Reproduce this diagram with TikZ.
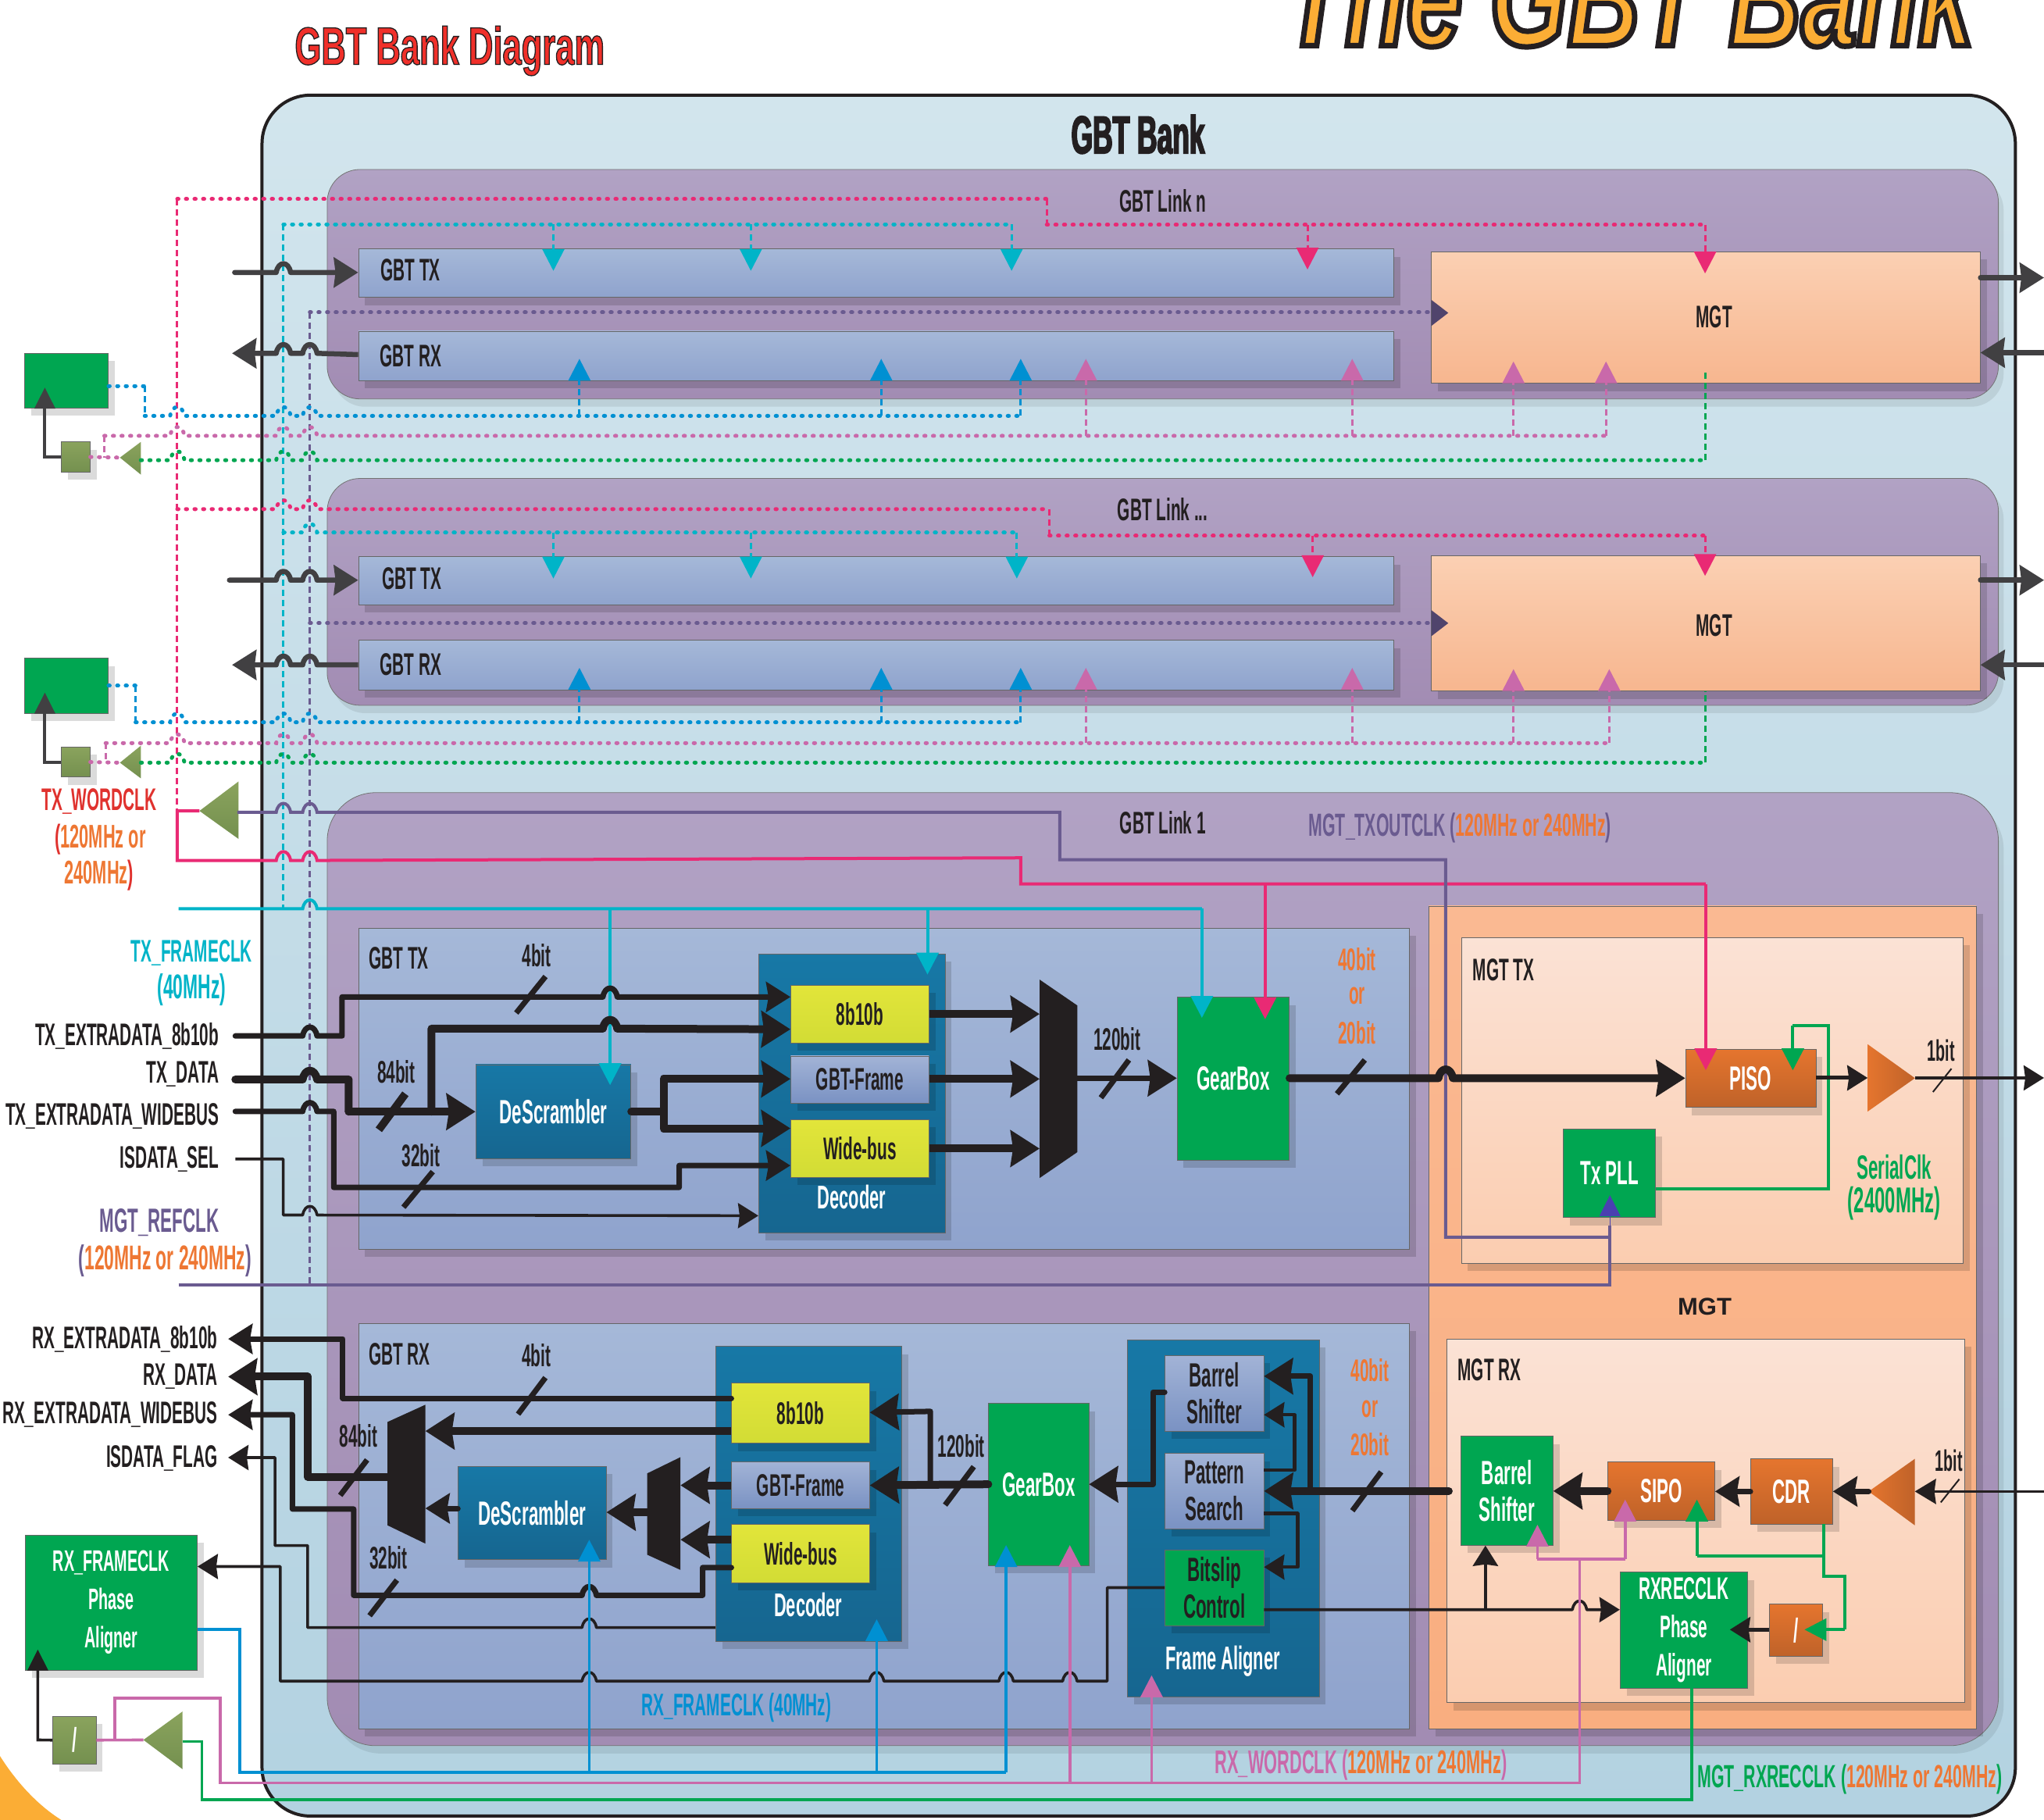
\documentclass[tikz,border=0pt]{standalone}
\usepackage{fontspec}
\usetikzlibrary{arrows.meta,calc}
\setmainfont{Liberation Sans}[FakeStretch=0.52]
\newfontfamily\widef{Liberation Sans}
\newfontfamily\titlef{Liberation Sans}[FakeStretch=0.72]
\newfontfamily\dgmf{Liberation Sans}[FakeStretch=0.64]
\definecolor{ink}{HTML}{231F20}
\definecolor{cDark}{HTML}{414042}
\definecolor{cCrim}{HTML}{E92A74}
\definecolor{cTeal}{HTML}{00B4C8}
\definecolor{cBlue}{HTML}{0090D2}
\definecolor{cPink}{HTML}{C969AA}
\definecolor{cGrn}{HTML}{00A651}
\definecolor{cPur}{HTML}{6A5B90}
\definecolor{cOrg}{HTML}{EE7733}
\definecolor{cRed}{HTML}{E0322E}
\definecolor{cBrt}{HTML}{F0302A}
\definecolor{cTitle}{HTML}{FBAD35}
\newcommand\fs[1]{\fontsize{#1}{48}\selectfont}
\newcommand\hb[2]{-- (#1-5.5,#2) .. controls (#1-4,#2-9) and (#1+4,#2-9) .. (#1+5.5,#2)}
\newcommand\hbl[2]{-- (#1+5.5,#2) .. controls (#1+4,#2-9) and (#1-4,#2-9) .. (#1-5.5,#2)}
\newcommand{\bx}[7][]{%
 \pgfmathsetmacro\bxw{(#5-#3)*1.669}\pgfmathsetmacro\bxh{(#6-#4)*1.669}%
 \fill[black,opacity=.14] (#3+5,#4+6) rectangle (#5+5,#6+6);%
 \node[boxn,#1,minimum width=\bxw pt,minimum height=\bxh pt] (#2) at ({(#3+#5)/2},{(#4+#6)/2}) {#7};}
\newcommand{\busmk}[5][wB]{\draw[#1,line cap=butt] (#2,#3) -- (#4,#5);}
\tikzset{
 boxn/.style={rectangle,inner sep=0pt,draw=black!60,line width=.8pt,align=center,font=\bfseries\fs{43},text=ink},
 lab/.style={inner sep=0pt,align=center,font=\bfseries\fs{40},text=ink},
 gbtbox/.style={top color={rgb,255:red,165;green,184;blue,216},bottom color={rgb,255:red,143;green,163;blue,205}},
 mgtbox/.style={top color={rgb,255:red,251;green,208;blue,179},bottom color={rgb,255:red,247;green,182;blue,143}},
 subbox/.style={top color={rgb,255:red,251;green,226;blue,213},bottom color={rgb,255:red,251;green,205;blue,176}},
 decbox/.style={top color={rgb,255:red,23;green,120;blue,166},bottom color={rgb,255:red,22;green,102;blue,144},text=white},
 ylbox/.style={top color={rgb,255:red,226;green,229;blue,58},bottom color={rgb,255:red,210;green,220;blue,53}},
 pwbox/.style={top color={rgb,255:red,162;green,179;blue,214},bottom color={rgb,255:red,122;green,146;blue,195}},
 gnbox/.style={fill=cGrn,text=white},
 orbox/.style={top color={rgb,255:red,229;green,117;blue,46},bottom color={rgb,255:red,191;green,98;blue,41},text=white},
 olbox/.style={top color={rgb,255:red,138;green,163;blue,93},bottom color={rgb,255:red,116;green,144;blue,79},text=white},
 wA/.style={line width=10pt,color=ink,line join=round,line cap=round},
 wB/.style={line width=7pt,color=ink,line join=round,line cap=round},
 wC/.style={line width=3.6pt,color=ink,line join=round},
 hA/.style={-{Stealth[length=37pt,width=46pt,inset=3pt]}},
 hB/.style={-{Stealth[length=31pt,width=38pt,inset=3pt]}},
 hC/.style={-{Stealth[length=26pt,width=32pt,inset=2pt]}},
 dk/.style={line width=6.5pt,color=cDark,line join=round,line cap=round,-{Stealth[length=31pt,width=38pt,inset=2pt]}},
 dkrev/.style={line width=6.5pt,color=cDark,line join=round,{Stealth[length=31pt,width=38pt,inset=2pt]}-},
 hdot/.style={line width=5pt,line cap=round,dash pattern=on 1.5pt off 9.5pt},
 vdash/.style={line width=3pt,dash pattern=on 8pt off 5pt},
 clk/.style={-{Triangle[length=28pt,width=28pt]}},
 clw/.style={line width=4pt,line join=miter},
}
\begin{document}
\begin{tikzpicture}[x=1.669pt,y=-1.669pt]
\useasboundingbox (0,0) rectangle (1568,1396);
\clip (0,0) rectangle (1568,1396);
\fill[white] (0,0) rectangle (1568,1396);
\fill[cTitle] (0,1347) .. controls (12,1366) and (28,1384) .. (47,1396) -- (0,1396) -- cycle;
% titles
\node[lab,anchor=base west,font=\titlef\bfseries\itshape\fontsize{178}{190}\selectfont,text=cTitle] (bigtitle) at (985,35) {\special{pdf:code 2 Tr 7 w 0.14 0.12 0.13 RG}The GBT Bank\special{pdf:code 0 Tr}};
\node[lab,font=\dgmf\bfseries\fontsize{68}{72}\selectfont,text=cBrt] (dtitle) at (345,39) {\special{pdf:code 2 Tr 1.3 w 0.14 0.12 0.13 RG}GBT Bank Diagram\special{pdf:code 0 Tr}};
% bank
\pgfmathsetmacro\bw{(1546-201)*1.669}\pgfmathsetmacro\bh{(1393-73)*1.669}
\node[rectangle,inner sep=0,minimum width=\bw pt,minimum height=\bh pt,draw=ink,line width=4pt,rounded corners=62pt,top color={rgb,255:red,210;green,229;blue,237},bottom color={rgb,255:red,179;green,210;blue,225}] (bank) at (873.5,733) {};
\node[lab,font=\bfseries\fs{68}] (bankl) at (873,103) {\special{pdf:code 2 Tr 1.8 w 0.14 0.12 0.13 RG}GBT Bank\special{pdf:code 0 Tr}};
% links
\foreach \nm/\ya/\yb/\rr in {linkn/130/306/42pt,linkm/367/541/42pt,linka/608/1339/62pt}{
 \pgfmathsetmacro\lw{(1533-251)*1.669}\pgfmathsetmacro\lh{(\yb-\ya)*1.669}\pgfmathsetmacro\lc{(\ya+\yb)/2}
 \fill[black,opacity=.08,rounded corners=\rr] (255,\ya+6) rectangle (1537,\yb+6);
 \node[rectangle,inner sep=0,minimum width=\lw pt,minimum height=\lh pt,draw=black!55,line width=.8pt,rounded corners=\rr,top color={rgb,255:red,177;green,162;blue,196},bottom color={rgb,255:red,162;green,140;blue,179}] (\nm) at (892,\lc) {};
}
\node[lab] (lnl) at (892,154) {GBT Link n};
\node[lab] (lml) at (892,391) {GBT Link ...};
\node[lab] (lal) at (892,631) {GBT Link 1};
% link n boxes
\bx[gbtbox]{txn}{275}{191}{1069}{228}{}
\bx[gbtbox]{rxn}{275}{254}{1069}{292}{}
\bx[mgtbox]{mgtn}{1098}{193}{1519}{294}{}
\node[lab] (mgtnl) at (1315,243) {MGT};
\node[lab] (txnl) at (315,207) {GBT TX};
\node[lab] (rxnl) at (315,273) {GBT RX};
% link ... boxes
\bx[gbtbox]{txm}{275}{427}{1069}{464}{}
\bx[gbtbox]{rxm}{275}{491}{1069}{529}{}
\bx[mgtbox]{mgtm}{1098}{426}{1519}{530}{}
\node[lab] (mgtml) at (1315,480) {MGT};
\node[lab] (txml) at (316,444) {GBT TX};
\node[lab] (rxml) at (315,510) {GBT RX};
% left clock blocks
\bx[gnbox]{cgn}{19}{271}{83}{313}{}
\bx[olbox]{sbn}{47}{339}{69}{362}{}
\bx[gnbox]{cgm}{19}{505}{83}{547}{}
\bx[olbox]{sbm}{47}{573}{69}{596}{}
\shade[top color={rgb,255:red,138;green,163;blue,93},bottom color={rgb,255:red,116;green,144;blue,79}] (92,351) -- (108,339) -- (108,364) -- cycle;
\shade[top color={rgb,255:red,138;green,163;blue,93},bottom color={rgb,255:red,116;green,144;blue,79}] (92,585) -- (108,572) -- (108,597) -- cycle;
\shade[top color={rgb,255:red,138;green,163;blue,93},bottom color={rgb,255:red,116;green,144;blue,79}] (153,622) -- (183,599.4) -- (183,643.5) -- cycle;
\coordinate (bfn) at (92,351); \coordinate (bfnb) at (108,353);
\coordinate (bfm) at (92,585); \coordinate (bfmb) at (108,585);
\coordinate (bfa) at (153,622); \coordinate (bfab) at (182,623);
% ---------- link 1 boxes
\bx[gbtbox]{gtx}{275}{712}{1081}{958}{}
\bx[gbtbox]{grx}{275}{1015}{1081}{1326}{}
\bx[top color={rgb,255:red,250;green,185;blue,146},bottom color={rgb,255:red,249;green,174;blue,128}]{mgtb}{1096}{695}{1516}{1326}{}
\bx[subbox]{mtx}{1121}{719}{1506}{969}{}
\bx[subbox]{mrx}{1110}{1027}{1507}{1306}{}
\node[lab,font=\widef\bfseries\fs{31}] (mgtl) at (1307.7,1002) {MGT};
\node[lab] (mtxl) at (1153.5,744) {MGT TX};
\node[lab] (mrxl) at (1142.6,1051) {MGT RX};
\node[lab] (gtxl) at (306,735) {GBT TX};
\node[lab] (grxl) at (306.5,1038.5) {GBT RX};
% TX
\bx[decbox]{desT}{365}{816.6}{484}{888.8}{DeScrambler}
\bx[decbox]{decT}{582}{731.8}{725}{945.7}{}
\bx[ylbox,font=\bfseries\fs{40}]{dy8}{606.6}{755.7}{712.6}{800}{8b10b}
\bx[pwbox,font=\bfseries\fs{40}]{dyF}{606.6}{810}{712.6}{846}{GBT-Frame}
\bx[ylbox,font=\bfseries\fs{40}]{dyW}{606.6}{858.7}{712.6}{903}{Wide-bus}
\node[lab,text=white,font=\bfseries\fs{42}] (decTl) at (653.4,918) {Decoder};
\fill[ink] (797.5,751.4) -- (826.5,771.3) -- (826.5,883.7) -- (797.5,903.6) -- cycle;
\coordinate (muxTi) at (797.5,827); \coordinate (muxTo) at (826.5,827);
\bx[gnbox]{gearT}{903}{765}{989}{889.7}{GearBox}
\bx[orbox]{piso}{1293}{804.7}{1393}{849.3}{PISO}
\bx[gnbox]{pll}{1199.4}{866}{1270}{934}{Tx PLL}
\shade[left color={rgb,255:red,229;green,117;blue,46},right color={rgb,255:red,191;green,98;blue,41}] (1432.7,801) -- (1469,827) -- (1432.7,852.6) -- cycle;
\coordinate (ampTi) at (1432.7,826.8); \coordinate (ampTo) at (1469,826.8); \coordinate (outT) at (1568,826.8);
% RX
\bx[decbox]{desR}{351.5}{1124.7}{465}{1196.4}{DeScrambler}
\bx[decbox]{decR}{549}{1032.8}{691.6}{1258.8}{}
\bx[ylbox,font=\bfseries\fs{40}]{ry8}{561.3}{1061}{667}{1107}{8b10b}
\bx[pwbox,font=\bfseries\fs{40}]{ryF}{561.3}{1121.4}{667}{1157}{GBT-Frame}
\bx[ylbox,font=\bfseries\fs{40}]{ryW}{561.3}{1169.4}{667}{1213.9}{Wide-bus}
\node[lab,text=white,font=\bfseries\fs{42}] (decRl) at (620,1231) {Decoder};
\fill[ink] (297.3,1090.7) -- (326.3,1077.5) -- (326.3,1184) -- (297.3,1170) -- cycle;
\fill[ink] (496.4,1130.2) -- (522,1117.7) -- (522,1204.2) -- (496.4,1192.5) -- cycle;
\coordinate (m1r) at (326.3,1130); \coordinate (m1l) at (297.3,1132.8);
\coordinate (m2r) at (522,1160); \coordinate (m2l) at (496.4,1160);
\bx[gnbox]{gearR}{758.4}{1076.4}{835.2}{1200.9}{GearBox}
\bx[decbox]{fal}{865}{1027.6}{1012}{1301.4}{}
\node[lab,text=white,font=\bfseries\fs{42}] (fall) at (938,1274.4) {Frame Aligner};
\bx[pwbox,font=\bfseries\fs{43}]{brl}{893.7}{1039.8}{969.4}{1097.7}{Barrel\\[-1pt]Shifter}
\bx[pwbox,font=\bfseries\fs{43}]{pat}{893.7}{1114.9}{969.4}{1172.5}{Pattern\\[-1pt]Search}
\bx[gnbox,font=\bfseries\fs{43},text=ink]{bit}{893.7}{1188.9}{969.4}{1247}{Bitslip\\[-1pt]Control}
\bx[gnbox,font=\bfseries\fs{43}]{brR}{1120.6}{1101.7}{1191.3}{1185.3}{Barrel\\[-1pt]Shifter}
\bx[orbox]{sipo}{1233.4}{1121.4}{1315.4}{1166}{SIPO}
\bx[orbox]{cdr}{1343}{1119}{1405.8}{1169}{CDR}
\shade[left color={rgb,255:red,229;green,117;blue,46},right color={rgb,255:red,191;green,98;blue,41}] (1433.5,1144) -- (1468.9,1119) -- (1468.9,1170) -- cycle;
\coordinate (ampRo) at (1433.5,1144); \coordinate (ampRi) at (1468.9,1144); \coordinate (inR) at (1568,1144);
\bx[gnbox,font=\bfseries\fs{40}]{rxr}{1242.8}{1206}{1340.6}{1294.8}{RXRECCLK\\[1pt]Phase\\[1pt]Aligner}
\bx[orbox]{dvr}{1357.4}{1230.4}{1398}{1270.4}{/}
\bx[gnbox,font=\bfseries\fs{38}]{rxf}{19.5}{1177.5}{151.3}{1281}{RX\_FRAMECLK\\[1pt]Phase\\[1pt]Aligner}
\bx[olbox]{dvf}{40.5}{1316.5}{73.7}{1353}{/}
\shade[top color={rgb,255:red,138;green,163;blue,93},bottom color={rgb,255:red,116;green,144;blue,79}] (110,1334.6) -- (140,1312.8) -- (140,1357) -- cycle;
\coordinate (bfr) at (110,1334.6); \coordinate (bfrb) at (140,1335.7);
% ---------- dashed verticals (shared)
\draw[vdash,cCrim] (136,152.7) -- (136,622);
\draw[vdash,cTeal] (217.4,172) -- (217.4,697);
\draw[vdash,cPur] (237.7,239.6) -- (237.7,985.5);
% ---- link n clocks
\draw[hdot,cCrim] (136,152.7) -- (803,152.7);
\draw[vdash,cCrim] (803,152.7) -- (803,172.4);
\draw[hdot,cCrim] (803,172.4) -- (1308,172.4);
\draw[vdash,cCrim,clk] (1003,172.4) -- (txn.north -| 1003,0) -- ++(0,16);
\draw[vdash,cCrim,clk] (1308,172.4) -- (mgtn.north -| 1308,0) -- ++(0,17);
\draw[hdot,cTeal] (217.4,172) -- (776,172);
\draw[vdash,cTeal,clk] (424.5,172) -- (txn.north -| 424.5,0) -- ++(0,17);
\draw[vdash,cTeal,clk] (576,172) -- (txn.north -| 576,0) -- ++(0,17);
\draw[vdash,cTeal,clk] (776,172) -- (txn.north -| 776,0) -- ++(0,17);
\draw[hdot,cPur] (237.7,239.6) -- (1098,239.6);
\fill[cPur!75!black] (1098,230) -- (1111,240) -- (1098,250) -- cycle;
\coordinate (stn) at (180,209);
\draw[dk] (stn) \hb{217.4}{209} -- (txn.west |- 0,209);
\coordinate (endnr) at (178,271);
\draw[dkrev] (endnr) \hb{217.4}{271} \hb{237.7}{271} -- (rxn.west |- 0,272);
\coordinate (outn) at (1568,213); \coordinate (innn) at (1568,270.5);
\draw[dk] (mgtn.east |- 0,213) -- (outn);
\draw[dk] (innn) -- (mgtn.east |- 0,270.5);
\draw[hdot,cBlue] (cgn.east |- 0,296) -- (111,296);
\draw[vdash,cBlue] (111,296) -- (111,319);
\draw[hdot,cBlue] (111,319) \hb{136}{319} \hb{217.4}{319} \hb{237.7}{319} -- (783,319);
\draw[vdash,cBlue,clk] (444.5,319) -- (rxn.south -| 444.5,0) -- ++(0,-17);
\draw[vdash,cBlue,clk] (676,319) -- (rxn.south -| 676,0) -- ++(0,-17);
\draw[vdash,cBlue,clk] (783,319) -- (rxn.south -| 783,0) -- ++(0,-17);
\draw[hdot,cPink] (80,334.3) \hb{136}{334.3} \hb{217.4}{334.3} \hb{237.7}{334.3} -- (1232,334.3);
\draw[vdash,cPink] (80,334.3) -- (80,351);
\draw[hdot,cPink] (sbn.east) -- (bfn);
\draw[vdash,cPink,clk] (833,334.3) -- (rxn.south -| 833,0) -- ++(0,-17);
\draw[vdash,cPink,clk] (1037.3,334.3) -- (rxn.south -| 1037.3,0) -- ++(0,-17);
\draw[vdash,cPink,clk] (1161,334.3) -- (mgtn.south -| 1161,0) -- ++(0,-17);
\draw[vdash,cPink,clk] (1232,334.3) -- (mgtn.south -| 1232,0) -- ++(0,-17);
\draw[hdot,cGrn] (bfnb) \hb{136}{353} \hb{217.4}{353} \hb{237.7}{353} -- (1308,353);
\draw[vdash,cGrn] (1308,353) -- (1308,284);
\draw[line width=4pt,cDark,-{Triangle[length=27pt,width=26pt]}] (sbn.west) -- (34.4,350.5) -- (cgn.south -| 34.4,0) -- ++(0,-16);
% ---- link ... clocks
\draw[hdot,cCrim] (136,390.5) \hb{217.4}{390.5} \hb{237.7}{390.5} -- (805,390.5);
\draw[vdash,cCrim] (805,390.5) -- (805,411);
\draw[hdot,cCrim] (805,411) -- (1308,411);
\draw[vdash,cCrim,clk] (1007,411) -- (txm.north -| 1007,0) -- ++(0,16);
\draw[vdash,cCrim,clk] (1308,411) -- (mgtm.north -| 1308,0) -- ++(0,16);
\draw[hdot,cTeal] (217.4,408.4) \hb{237.7}{408.4} -- (780,408.4);
\draw[vdash,cTeal,clk] (424.5,408.4) -- (txm.north -| 424.5,0) -- ++(0,17);
\draw[vdash,cTeal,clk] (576,408.4) -- (txm.north -| 576,0) -- ++(0,17);
\draw[vdash,cTeal,clk] (780,408.4) -- (txm.north -| 780,0) -- ++(0,17);
\draw[hdot,cPur] (237.7,478) -- (1098,478);
\fill[cPur!75!black] (1098,468) -- (1111,478) -- (1098,488) -- cycle;
\coordinate (stm) at (176,445);
\draw[dk] (stm) \hb{217.4}{445} \hb{237.7}{445} -- (txm.west |- 0,445);
\coordinate (endmr) at (178,510);
\draw[dkrev] (endmr) \hb{217.4}{510} \hb{237.7}{510} -- (rxm.west |- 0,510);
\coordinate (outm) at (1568,445); \coordinate (innm) at (1568,510);
\draw[dk] (mgtm.east |- 0,445) -- (outm);
\draw[dk] (innm) -- (mgtm.east |- 0,510);
\draw[hdot,cBlue] (cgm.east |- 0,526) -- (104,526);
\draw[vdash,cBlue] (104,526) -- (104,554);
\draw[hdot,cBlue] (104,554) \hb{136}{554} \hb{217.4}{554} \hb{237.7}{554} -- (783,554);
\draw[vdash,cBlue,clk] (444.5,554) -- (rxm.south -| 444.5,0) -- ++(0,-17);
\draw[vdash,cBlue,clk] (676,554) -- (rxm.south -| 676,0) -- ++(0,-17);
\draw[vdash,cBlue,clk] (783,554) -- (rxm.south -| 783,0) -- ++(0,-17);
\draw[hdot,cPink] (81,570) \hb{136}{570} \hb{217.4}{570} \hb{237.7}{570} -- (1234.5,570);
\draw[vdash,cPink] (81,570) -- (81,584);
\draw[hdot,cPink] (sbm.east) -- (bfm);
\draw[vdash,cPink,clk] (833,570) -- (rxm.south -| 833,0) -- ++(0,-17);
\draw[vdash,cPink,clk] (1037.3,570) -- (rxm.south -| 1037.3,0) -- ++(0,-17);
\draw[vdash,cPink,clk] (1161,570) -- (mgtm.south -| 1161,0) -- ++(0,-17);
\draw[vdash,cPink,clk] (1234.5,570) -- (mgtm.south -| 1234.5,0) -- ++(0,-17);
\draw[hdot,cGrn] (bfmb) \hb{136}{585} \hb{217.4}{585} \hb{237.7}{585} -- (1308,585);
\draw[vdash,cGrn] (1308,585) -- (1308,530);
\draw[line width=4pt,cDark,-{Triangle[length=27pt,width=26pt]}] (sbm.west) -- (34.4,584.5) -- (cgm.south -| 34.4,0) -- ++(0,-16);
% ---- link 1 clocks
\draw[clw,cCrim] (bfa) -- (136,622) -- (136,660) \hb{217.4}{660} \hb{237.7}{660} -- (783,658) -- (783,678) -- (1308.5,678);
\draw[clw,cCrim,clk] (1308.5,678) -- (piso.north -| 1308.5,0) -- ++(0,16.5);
\draw[clw,cCrim,clk] (970.5,678) -- (gearT.north -| 970.5,0) -- ++(0,17);
\draw[clw,cPur] (bfab) \hb{217.4}{623} \hb{237.7}{623} -- (813,623) -- (813,659.5) -- (1109,659.5) -- (1109,949) -- (1235,949);
\coordinate (sref) at (137,985.5);
\draw[clw,cPur] (sref) -- (1235,985.5) -- (1235,940);
\draw[line width=1pt,cPur!70!blue,-{Triangle[length=27pt,width=27pt]}] (1235,940) -- (pll.south -| 1235,0) -- ++(0,-17.5);
\coordinate (sfrm) at (137,697);
\draw[clw,cTeal] (sfrm) \hb{237.7}{697} -- (922,697);
\draw[clw,cTeal,clk] (922,697) -- (gearT.north -| 922,0) -- ++(0,16);
\draw[clw,cTeal,clk] (711.5,697) -- (decT.north -| 711.5,0) -- ++(0,16);
\draw[clw,cTeal,clk] (468,697) -- (desT.north -| 468,0) -- ++(0,16);
% ---- TX data
\coordinate (s8) at (180.5,794.6);\coordinate (sD) at (180.5,828);\coordinate (sW) at (180.5,852.5);\coordinate (sI) at (180.5,889);
\draw[wB,hB] (s8) \hb{237.7}{794.6} -- (262.4,794.6) -- (262.4,764.7) \hb{468}{764.7} -- (dy8.west |- 0,764.7);
\draw[wA] (sD) \hb{237.7}{828} -- (267.5,828) -- (267.5,852.7);
\draw[wA,hA] (267.5,852.7) -- (desT.west |- 0,852.7);
\draw[wA,hA] (331,852.7) -- (331,789) \hb{468}{789} -- (dy8.west |- 0,789.5);
\draw[wB,hB] (sW) \hb{237.7}{852.5} -- (256,852.5) -- (256,910.8) -- (521,910.8) -- (521,894) -- (dyW.west |- 0,894);
\draw[wC,hC] (sI) -- (217.3,889) -- (217.3,932) \hb{237.7}{932} -- (decT.west |- 0,932.5);
\draw[wA] (desT.east |- 0,852.7) -- (509,852.7);
\draw[wA,hA] (509,852.7) -- (509,827.6) -- (dyF.west |- 0,827.6);
\draw[wA,hA] (509,852.7) -- (509,865.5) -- (dyW.west |- 0,865.5);
\draw[wA,hA,line cap=butt] (dy8.east |- 0,777.8) -- (muxTi |- 0,777.8);
\draw[wA,hA,line cap=butt] (dyF.east |- 0,827.6) -- (muxTi |- 0,827.6);
\draw[wA,hA,line cap=butt] (dyW.east |- 0,881) -- (muxTi |- 0,881);
\draw[wB,hA,line cap=butt] (muxTo) -- (gearT.west |- 0,827);
\draw[wA,hA] (gearT.east |- 0,827) \hb{1109}{827} -- (piso.west |- 0,827);
\busmk{396}{777}{418.5}{749}
\busmk[wA]{290.6}{866.6}{311}{839}
\busmk{309.5}{926}{332}{898.7}
\busmk{844.5}{842}{866}{813}
\busmk{1025.6}{839}{1047}{813}
\node[lab] (b4t) at (411.6,733) {4bit};
\node[lab] (b84t) at (304,822) {84bit};
\node[lab] (b32t) at (323,886) {32bit};
\node[lab] (b120t) at (857,797) {120bit};
\node[lab,text=cOrg] (b40t) at (1041,736) {40bit};
\node[lab,text=cOrg] (bort) at (1041,764) {or};
\node[lab,text=cOrg] (b20t) at (1041,792) {20bit};
% PISO etc
\draw[clw,cGrn] (pll.east |- 0,912) -- (1402.6,912) -- (1402.6,786.8) -- (1375.3,786.8);
\draw[clw,cGrn,clk] (1375.3,786.8) -- (piso.north -| 1375.3,0) -- ++(0,16.5);
\draw[wC,hC,line width=5pt] (piso.east |- 0,826.8) -- (ampTi);
\draw[wC,hC] (ampTo) -- (outT);
\busmk[wC,line width=2pt]{1482.8}{837.6}{1497}{819.7}
\node[lab,font=\bfseries\fs{38}] (b1t) at (1489,805.6) {1bit};
\node[lab,text=cGrn,font=\bfseries\fs{43}] (sclk) at (1453,895.4) {SerialClk};
\node[lab,text=cGrn,font=\bfseries\fs{46}] (sclk2) at (1453,923) {(2400MHz)};
\node[lab,text=cPur,font=\bfseries\fs{41}] (txout) at (1120,635) {MGT\_TXOUTCLK ({\color{cOrg}120MHz or 240MHz}\textcolor{cPur}{)}};
% left labels TX
\node[lab,text=cRed] (lwc) at (76,615) {TX\_WORDCLK};
\node[lab,text=cOrg,font=\bfseries\fs{42}] (lwc2) at (77,644) {\textcolor{cRed}{(}120MHz or};
\node[lab,text=cOrg,font=\bfseries\fs{42}] (lwc3) at (76,671.5) {240MHz\textcolor{cRed}{)}};
\node[lab,text=cTeal] (lfc) at (147,731) {TX\_FRAMECLK};
\node[lab,text=cTeal,font=\bfseries\fs{44}] (lfc2) at (147,759) {(40MHz)};
\node[lab,anchor=east] (l8) at (168,795) {TX\_EXTRADATA\_8b10b};
\node[lab,anchor=east] (lD) at (168,824) {TX\_DATA};
\node[lab,anchor=east] (lW) at (168,856) {TX\_EXTRADATA\_WIDEBUS};
\node[lab,anchor=east] (lI) at (168,889) {ISDATA\_SEL};
\node[lab,anchor=east,text=cPur,font=\bfseries\fs{43}] (lR) at (168,938) {MGT\_REFCLK};
\node[lab,anchor=east,text=cOrg,font=\bfseries\fs{44}] (lR2) at (193,967) {\textcolor{cPur}{(}120MHz or 240MHz\textcolor{cPur}{)}};
% ---- RX data
\coordinate (lp8) at (175,1027);\coordinate (lpD) at (175,1056);\coordinate (lpW) at (175,1085.2);\coordinate (lpF) at (175,1118);
\draw[wB,hB] (ry8.west |- 0,1072.5) -- (263,1072.5) -- (263,1027) -- (lp8);
\draw[wA,hA] (m1l) -- (236,1132.8) -- (236,1056) -- (lpD);
\draw[wA,hA,line cap=butt] (ry8.west |- 0,1097.7) -- (m1r |- 0,1097.7);
\draw[wB,hB] (desR.west |- 0,1157) -- (m1r |- 0,1157);
\draw[wA,hA,line cap=butt] (ryF.west |- 0,1139.3) -- (m2r |- 0,1139.3);
\draw[wA,hA,line cap=butt] (ryW.west |- 0,1181) -- (m2r |- 0,1181);
\draw[wA,hA,line cap=butt] (m2l) -- (desR.east |- 0,1160);
\draw[wB,hB] (ryW.west |- 0,1202.4) -- (539,1202.4) -- (539,1223.7) \hbl{452}{1223.7} -- (271.3,1223.7) -- (271.3,1157.5) -- (224.3,1157.5) -- (224.3,1085.2) -- (lpW);
\draw[wC,hC] (decR.west |- 0,1248.4) \hbl{452}{1248.4} -- (236,1248.4) -- (236,1185.5) -- (211,1185.5) -- (211,1118) -- (lpF);
\draw[wC,hC] (bit.west |- 0,1217.8) -- (849.4,1217.8) -- (849.4,1289.5) \hbl{820.7}{1289.5} \hbl{771.8}{1289.5} \hbl{672.5}{1289.5} \hbl{452}{1289.5} -- (215,1289.5) -- (215,1201.6) -- (rxf.east |- 0,1201.6);
\coordinate (dRs) at (1111.4,1143.7);
\draw[wA,hA] (dRs) -- (pat.east |- 0,1143.7);
\draw[wB,hA] (1005.3,1143.7) -- (1005.3,1055.6) -- (brl.east |- 0,1055.6);
\draw[wC,hC,line width=4.5pt] (pat.east |- 0,1127.6) -- (993,1127.6) -- (993,1085.2) -- (brl.east |- 0,1085.2);
\draw[wC,hC,line width=4.5pt] (pat.east |- 0,1161) -- (995.4,1161) -- (995.4,1202) -- (bit.east |- 0,1202);
\draw[wB,hA] (brl.west |- 0,1067.8) -- (884.5,1067.8) -- (884.5,1138.5) -- (gearR.east |- 0,1138.5);
\draw[wA,hA] (gearR.west |- 0,1138.5) -- (ryF.east |- 0,1139.3);
\draw[wB,hA] (713.7,1138.5) -- (713.7,1082.6) -- (ry8.east |- 0,1083.4);
\busmk{397.4}{1084.7}{418.4}{1056.7}
\busmk{261}{1147}{281.6}{1119.8}
\busmk{283.5}{1239.3}{304.5}{1212}
\busmk{725}{1154.4}{747}{1125}
\busmk{1037.4}{1158.8}{1059.5}{1129}
\node[lab] (r4t) at (411.5,1039.8) {4bit};
\node[lab] (r84t) at (275,1101.6) {84bit};
\node[lab] (r32t) at (298,1194.6) {32bit};
\node[lab] (r120t) at (737.4,1109) {120bit};
\node[lab,text=cOrg] (r40t) at (1050.8,1051) {40bit};
\node[lab,text=cOrg] (rort) at (1050.8,1081) {or};
\node[lab,text=cOrg] (r20t) at (1050.8,1108) {20bit};
% RX MGT
\draw[wA,hA] (sipo.west |- 0,1143.7) -- (brR.east |- 0,1143.7);
\draw[wB,hB] (cdr.west |- 0,1144) -- (sipo.east |- 0,1144);
\draw[wB,hB] (ampRo) -- (cdr.east |- 0,1144);
\draw[wC,-{Stealth[length=27pt,width=32pt,inset=2pt]}] (inR) -- (ampRi);
\busmk[wC,line width=2pt]{1488.8}{1152.4}{1503}{1134.6}
\node[lab,font=\bfseries\fs{38}] (r1t) at (1495,1120.5) {1bit};
\draw[wC,hC] (bit.east |- 0,1234.7) \hb{1211.7}{1234.7} -- (rxr.west |- 0,1234.7);
\draw[wC,hC,line width=4.5pt] (1139.5,1234.7) -- (brR.south -| 1139.5,0);
\draw[wC,hC,line width=5pt] (dvr.west |- 0,1250) -- (1327,1250);
\draw[clw,cGrn] (1398.8,1169) -- (1398.8,1193.8) -- (1301.7,1193.8);
\draw[clw,cGrn,clk] (1301.7,1193.8) -- (sipo.south -| 1301.7,0) -- ++(0,-16);
\draw[clw,cGrn] (1398.8,1193.8) -- (1398.8,1208.8) -- (1414.9,1208.8) -- (1414.9,1250);
\draw[clw,cGrn,clk] (1414.9,1250) -- (dvr.east |- 0,1250) -- ++(-14,0);
% bottom clocks
\draw[clw,cBlue,line width=3.6pt] (rxf.east |- 0,1250) -- (184,1250) -- (184,1359.6) -- (771.8,1359.6);
\draw[clw,cBlue,line width=3.6pt,clk] (771.8,1359.6) -- (gearR.south -| 771.8,0) -- ++(0,-16);
\draw[clw,cBlue,line width=3.6pt,clk] (452,1359.6) -- (desR.south -| 452,0) -- ++(0,-15.6);
\draw[clw,cBlue,line width=3.6pt,clk] (672.5,1359.6) -- (decR.south -| 672.5,0) -- ++(0,-17);
\draw[clw,cPink,line width=3.6pt] (dvf.east) -- (bfr);
\draw[clw,cPink,line width=3.6pt] (88,1334.6) -- (88,1302.4) -- (169,1302.4) -- (169,1367.6) -- (1211.7,1367.6) -- (1211.7,1196);
\draw[clw,cPink,line width=3.6pt,clk] (820.7,1367.6) -- (gearR.south -| 820.7,0) -- ++(0,-16);
\draw[clw,cPink,line width=3.6pt,clk] (883.4,1367.6) -- (fal.south -| 883.4,0) -- ++(0,-16.6);
\draw[clw,cPink,line width=3.6pt] (1179.4,1196) -- (1246.7,1196);
\draw[clw,cPink,line width=3.6pt,clk] (1246.7,1196) -- (sipo.south -| 1246.7,0) -- ++(0,-16);
\draw[clw,cPink,line width=3.6pt,clk] (1179.4,1196) -- (brR.south -| 1179.4,0) -- ++(0,-16);
\draw[clw,cGrn,line width=3.6pt] (bfrb) -- (154.8,1335.7) -- (154.8,1380.4) -- (1297.9,1380.4) -- (rxr.south -| 1297.9,0);
\draw[line width=3.6pt,ink,-{Triangle[length=27pt,width=26pt]}] (dvf.west) -- (29,1334.6) -- (rxf.south -| 29,0) -- ++(0,-16);
% left labels RX
\node[lab,anchor=east] (q8) at (167,1027) {RX\_EXTRADATA\_8b10b};
\node[lab,anchor=east] (qD) at (167,1056) {RX\_DATA};
\node[lab,anchor=east] (qW) at (167,1085) {RX\_EXTRADATA\_WIDEBUS};
\node[lab,anchor=east] (qF) at (167,1118.5) {ISDATA\_FLAG};
\node[lab,text=cBlue] (qfc) at (565,1310) {RX\_FRAMECLK (40MHz)};
\node[lab,text=cPink,font=\bfseries\fs{42}] (qwc) at (1044,1354) {RX\_WORDCLK ({\color{cOrg}120MHz or 240MHz}\textcolor{cPink}{)}};
\node[lab,text=cGrn,font=\bfseries\fs{41}] (qrc) at (1419,1365) {MGT\_RXRECCLK ({\color{cOrg}120MHz or 240MHz}\textcolor{cGrn}{)}};
\end{tikzpicture}
\end{document}
